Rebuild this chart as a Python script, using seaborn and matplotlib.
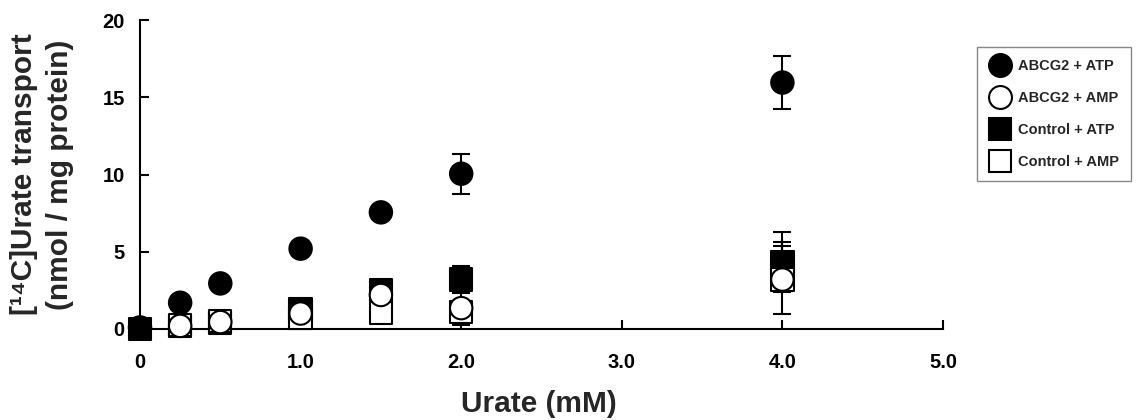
import numpy as np
import pandas as pd
import matplotlib
matplotlib.use("Agg")
import matplotlib.pyplot as plt
import seaborn as sns
from matplotlib.lines import Line2D

# ---------------- data ----------------
series_names = ["ABCG2 + ATP", "ABCG2 + AMP", "Control + ATP", "Control + AMP"]

urate_atp = [0, 0.25, 0.5, 1.0, 1.5, 2.0, 4.0]
urate_amp = [0.25, 0.5, 1.0, 1.5, 2.0, 4.0]

abcg2_atp = [0.1, 1.7, 2.95, 5.2, 7.55, 10.05, 15.95]
abcg2_atp_err_low = [0.1, 0.2, 0.2, 0.4, 0.3, 1.3, 1.7]
abcg2_atp_err_high = [0.1, 0.2, 0.2, 0.4, 0.3, 1.3, 1.7]

abcg2_amp = [0.2, 0.45, 1.0, 2.2, 1.35, 3.2]
abcg2_amp_err_low = [0.1, 0.1, 0.2, 0.3, 1.1, 2.2]
abcg2_amp_err_high = [0.1, 0.1, 0.2, 0.3, 1.1, 2.2]

control_atp = [0.0, 0.2, 0.4, 1.3, 2.5, 3.2, 4.35]
control_atp_err_low = [0.1, 0.1, 0.1, 0.2, 0.3, 0.85, 1.25]
control_atp_err_high = [0.1, 0.1, 0.1, 0.2, 0.3, 0.85, 1.25]

control_amp = [0.25, 0.5, 0.75, 1.05, 1.1, 3.2]
control_amp_err_low = [0.1, 0.1, 0.1, 0.2, 0.3, 0.8]
control_amp_err_high = [0.1, 0.1, 0.1, 0.2, 2.6, 3.1]

x_ticks = [0, 1, 2, 3, 4, 5]
x_tick_labels = ["0", "1.0", "2.0", "3.0", "4.0", "5.0"]
y_ticks = [0, 5, 10, 15, 20]
y_tick_labels = ["0", "5", "10", "15", "20"]

series_x = {
    "ABCG2 + ATP": urate_atp, "ABCG2 + AMP": urate_amp,
    "Control + ATP": urate_atp, "Control + AMP": urate_amp,
}
series_y = {
    "ABCG2 + ATP": abcg2_atp, "ABCG2 + AMP": abcg2_amp,
    "Control + ATP": control_atp, "Control + AMP": control_amp,
}
series_err = {
    "ABCG2 + ATP": [abcg2_atp_err_low, abcg2_atp_err_high],
    "ABCG2 + AMP": [abcg2_amp_err_low, abcg2_amp_err_high],
    "Control + ATP": [control_atp_err_low, control_atp_err_high],
    "Control + AMP": [control_amp_err_low, control_amp_err_high],
}
markers = {"ABCG2 + ATP": "o", "ABCG2 + AMP": "o",
           "Control + ATP": "s", "Control + AMP": "s"}
palette = {"ABCG2 + ATP": "black", "ABCG2 + AMP": "white",
           "Control + ATP": "black", "Control + AMP": "white"}

# drawing order: squares first, then circles
draw_order = ["Control + ATP", "Control + AMP", "ABCG2 + AMP", "ABCG2 + ATP"]
rows = []
for name in draw_order:
    for xv, yv in zip(series_x[name], series_y[name]):
        rows.append({"series": name, "urate": xv, "transport": yv})
df = pd.DataFrame(rows)

# ---------------- style ----------------
sns.set_style("ticks")
plt.rcParams["font.family"] = ["Liberation Sans", "DejaVu Sans"]
plt.rcParams["font.weight"] = "bold"
plt.rcParams["axes.labelweight"] = "bold"

fig = plt.figure(figsize=(11.37, 4.2), dpi=100)
ax = fig.add_axes([140 / 1137, 91 / 420, 803 / 1137, 309 / 420])

# error bars
for name in draw_order:
    eb = ax.errorbar(series_x[name], series_y[name], yerr=series_err[name],
                     fmt="none", ecolor="black", elinewidth=1.5,
                     capsize=6.5, capthick=1.5, zorder=2)
    for art in list(eb.lines[1]) + list(eb.lines[2]):
        art.set_clip_on(False)

sns.scatterplot(data=df, x="urate", y="transport", hue="series", style="series",
                hue_order=series_names, style_order=series_names,
                palette=palette, markers=markers, s=260,
                edgecolor="black", linewidth=1.5, legend=False,
                ax=ax, zorder=3, clip_on=False)

ax.set_xlim(0, 5)
ax.set_ylim(0, 20)
ax.set_xticks(x_ticks)
ax.set_xticklabels(x_tick_labels)
ax.set_yticks(y_ticks)
ax.set_yticklabels(y_tick_labels)

for side in ["top", "right"]:
    ax.spines[side].set_visible(False)
for side in ["left", "bottom"]:
    ax.spines[side].set_linewidth(1.5)
    ax.spines[side].set_color("black")

ax.tick_params(axis="both", direction="in", length=6.5, width=1.5,
               labelsize=14.5, colors="black")
ax.tick_params(axis="x", pad=17)
ax.tick_params(axis="y", pad=11)

ax.set_xlabel("Urate (mM)", fontsize=21.5, fontweight="bold", va="center")
ax.xaxis.set_label_coords(0.497, (329 - 404) / 309)
ax.set_ylabel("[¹⁴C]Urate transport\n(nmol / mg protein)", fontsize=21.5,
              fontweight="bold", va="center", linespacing=1.35)
ax.yaxis.set_label_coords((42 - 140) / 803, 0.5)

handles = []
for name in series_names:
    handles.append(Line2D([], [], ls="", marker=markers[name], markersize=16.5,
                          markerfacecolor=palette[name], markeredgecolor="black",
                          markeredgewidth=1.5))
leg = ax.legend(handles, series_names, loc="upper left",
                bbox_to_anchor=(977 / 1137, 1 - 47 / 420),
                bbox_transform=fig.transFigure, borderaxespad=0,
                prop={"size": 10.5, "weight": "bold"},
                frameon=True, fancybox=False, framealpha=1,
                edgecolor="#888888", borderpad=0.8, handlelength=1.6,
                handletextpad=0.4, labelspacing=1.25)
leg.get_frame().set_linewidth(1.0)

fig.savefig("out.png", dpi=100)
